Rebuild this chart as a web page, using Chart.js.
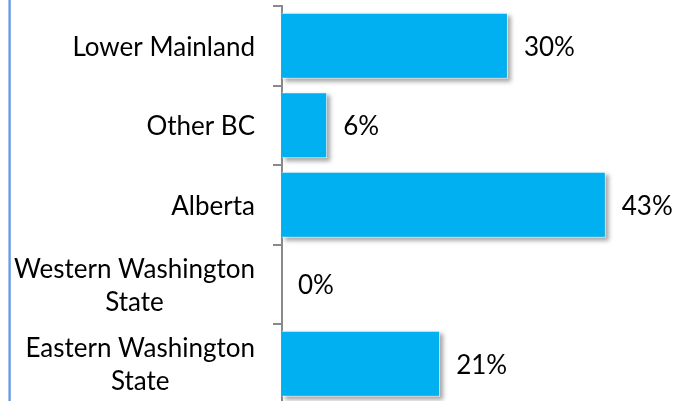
<!DOCTYPE html>
<html><head><meta charset="utf-8">
<script src="https://cdn.jsdelivr.net/npm/chart.js@4"></script>
<style>
html,body{margin:0;padding:0;overflow:hidden;background:#fff}
#wrap{position:relative;width:674px;height:410px}
</style>
</head><body><div id="wrap"><canvas id="c"></canvas></div>
<script>
const categories = ['Lower Mainland', 'Other BC', 'Alberta', ['Western Washington', 'State'], ['Eastern Washington', 'State']];
const shares = [30, 6, 43, 0, 21];
const xAxisMin = 0;
const xAxisMax = 50;

const FONT_FAMILY = 'Lato, "Noto Sans", sans-serif';
const FONT_SIZE = 26;
const LINE_GAP = 33;

const frame = {
  id: 'frame',
  beforeDraw(chart) {
    const ctx = chart.ctx;
    ctx.save();
    ctx.fillStyle = '#ffffff';
    ctx.fillRect(0, 0, chart.width, chart.height);
    ctx.fillStyle = '#a9c4ec';
    ctx.fillRect(8, 0, 3, chart.height);
    ctx.fillStyle = '#6c9bdf';
    ctx.fillRect(9, 0, 1.5, chart.height);
    ctx.restore();
  }
};

const shadow = {
  id: 'shadow',
  beforeDatasetsDraw(chart) {
    const ctx = chart.ctx;
    const meta = chart.getDatasetMeta(0);
    ctx.save();
    ctx.filter = 'blur(2px)';
    ctx.fillStyle = 'rgba(0,0,0,0.35)';
    meta.data.forEach(bar => {
      const w = bar.x - bar.base;
      if (w <= 0.5) return;
      ctx.fillRect(bar.base + 3, bar.y - bar.height / 2 + 3, w, bar.height);
    });
    ctx.restore();
  },
  afterDatasetsDraw(chart) {
    const ctx = chart.ctx;
    ctx.save();
    ctx.font = FONT_SIZE + 'px ' + FONT_FAMILY;
    ctx.fillStyle = '#000';
    ctx.textAlign = 'left';
    ctx.textBaseline = 'alphabetic';
    const capH = ctx.measureText('0').actualBoundingBoxAscent;
    const meta = chart.getDatasetMeta(0);
    meta.data.forEach((bar, i) => {
      const v = chart.data.datasets[0].data[i];
      ctx.fillText(v + '%', bar.x + 16, bar.y + capH / 2);
    });
    ctx.restore();
  }
};

const catLabels = {
  id: 'catLabels',
  afterDraw(chart) {
    const scale = chart.scales.y;
    const ctx = chart.ctx;
    ctx.save();
    ctx.font = FONT_SIZE + 'px ' + FONT_FAMILY;
    ctx.fillStyle = '#000';
    ctx.textAlign = 'center';
    ctx.textBaseline = 'alphabetic';
    const capH = ctx.measureText('H').actualBoundingBoxAscent;
    const xRight = scale.right - 27;
    chart.data.labels.forEach((lab, i) => {
      const lines = Array.isArray(lab) ? lab : [lab];
      const w = Math.max(...lines.map(l => ctx.measureText(l).width));
      const cx = xRight - w / 2;
      const cy = scale.getPixelForTick(i);
      const n = lines.length;
      lines.forEach((l, k) => {
        const y = cy + (k - (n - 1) / 2) * LINE_GAP + capH / 2;
        ctx.fillText(l, cx, y);
      });
    });
    ctx.restore();
  }
};

new Chart(document.getElementById('c'), {
  type: 'bar',
  data: {
    labels: categories,
    datasets: [{
      data: shares,
      backgroundColor: '#00b0f0',
      borderColor: 'rgba(235,248,255,0.9)',
      borderWidth: 1,
      categoryPercentage: 1,
      barPercentage: 0.83
    }]
  },
  options: {
    indexAxis: 'y',
    responsive: true,
    maintainAspectRatio: false,
    animation: false,
    layout: { padding: { left: 0, right: 15.5, top: 6, bottom: 6.5 } },
    plugins: { legend: { display: false }, tooltip: { enabled: false } },
    scales: {
      x: { display: false, min: xAxisMin, max: xAxisMax },
      y: {
        offset: true,
        grid: { offset: true, drawOnChartArea: false, drawTicks: true, tickLength: 9, color: '#8a8a8a', lineWidth: 2 },
        border: { display: true, color: '#8a8a8a', width: 2 },
        ticks: { display: false },
        afterFit(scale) { scale.width = 282; }
      }
    }
  },
  plugins: [frame, shadow, catLabels]
});
</script>
</body></html>
